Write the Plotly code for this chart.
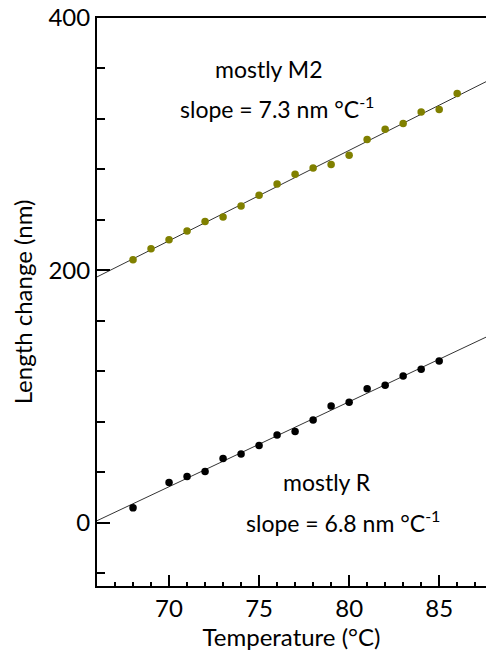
import numpy as np
import plotly.graph_objects as go

# --- data ---
temp_m2 = [68, 69, 70, 71, 72, 73, 74, 75, 76, 77, 78, 79, 80, 81, 82, 83, 84, 85, 86]
len_m2 = [208.5, 217.2, 224.4, 231.2, 238.7, 242.3, 251.0, 259.5, 268.5, 276.2,
          281.2, 283.9, 291.3, 303.7, 311.9, 316.4, 325.6, 327.5, 340.2]

temp_r = [68, 70, 71, 72, 73, 74, 75, 76, 77, 78, 79, 80, 81, 82, 83, 84, 85]
len_r = [11.9, 32.0, 36.7, 40.7, 51.0, 54.5, 61.3, 69.6, 72.5, 81.5,
         92.6, 95.5, 106.3, 109.0, 116.4, 121.7, 128.3]

x_range = [66, 87.6]
y_range = [-50, 400]

FONT = "Lato"
OLIVE = "#808000"

fig = go.Figure()

# linear fits across the full x range
for tx, ly in ((temp_m2, len_m2), (temp_r, len_r)):
    k, b = np.polyfit(tx, ly, 1)
    xs = np.array(x_range)
    fig.add_trace(go.Scatter(x=xs, y=k * xs + b, mode="lines",
                             line=dict(color="#333333", width=1),
                             showlegend=False, hoverinfo="skip"))

fig.add_trace(go.Scatter(x=temp_m2, y=len_m2, mode="markers",
                         marker=dict(color=OLIVE, size=7.5),
                         showlegend=False))
fig.add_trace(go.Scatter(x=temp_r, y=len_r, mode="markers",
                         marker=dict(color="#000000", size=7.5),
                         showlegend=False))

ann_font = dict(family=FONT, size=23, color="#000000")
fig.add_annotation(x=75.55, y=359.5, text="mostly M2", showarrow=False, font=ann_font)
fig.add_annotation(x=76.0, y=329, text="slope = 7.3 nm °C<sup>-1</sup>", showarrow=False, font=ann_font)
fig.add_annotation(x=78.75, y=32.5, text="mostly R", showarrow=False, font=ann_font)
fig.add_annotation(x=79.64, y=1, text="slope = 6.8 nm °C<sup>-1</sup>", showarrow=False, font=ann_font)

fig.update_layout(
    width=486, height=658,
    margin=dict(l=97, r=0, t=18, b=72),
    paper_bgcolor="white", plot_bgcolor="white",
    font=dict(family=FONT, size=24, color="#000000"),
)

fig.update_xaxes(
    range=x_range, showgrid=False, zeroline=False, automargin=False,
    showline=True, linecolor="#000000", linewidth=2, mirror=True,
    ticks="inside", ticklen=11, tickwidth=2, tickcolor="#000000",
    tick0=0, dtick=5,
    minor=dict(ticks="inside", ticklen=4, tickwidth=2, tickcolor="#000000", dtick=1, tick0=0),
    tickfont=dict(family=FONT, size=24),
    title=dict(text="Temperature (°C)", font=dict(family=FONT, size=24), standoff=6),
)
fig.update_yaxes(
    range=y_range, showgrid=False, zeroline=False, automargin=False,
    showline=True, linecolor="#000000", linewidth=2,
    ticks="inside", ticklen=13, tickwidth=2, tickcolor="#000000",
    tick0=0, dtick=200,
    minor=dict(ticks="inside", ticklen=8, tickwidth=2, tickcolor="#000000", dtick=40, tick0=0),
    tickfont=dict(family=FONT, size=24),
    title=dict(text="Length change (nm)", font=dict(family=FONT, size=24), standoff=9),
)

# remove the browser's default body margin so the figure fills the window exactly
fig.write_html("out.html", config={"displayModeBar": False},
               post_script="document.body.style.margin='0';")
